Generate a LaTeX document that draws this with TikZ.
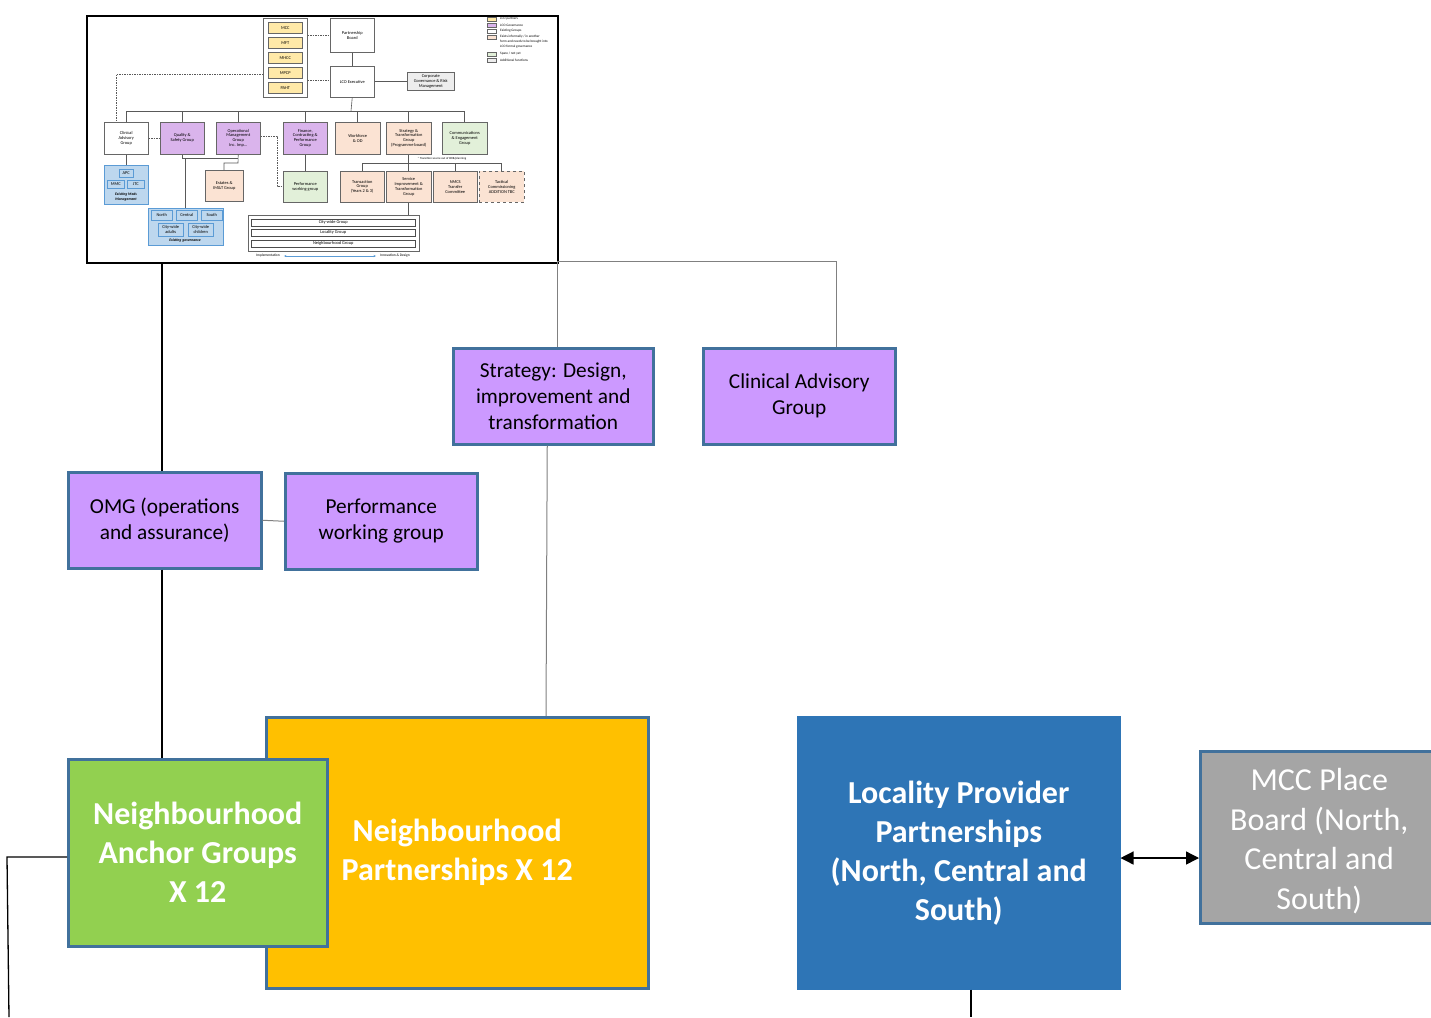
\documentclass[tikz,border=0pt]{standalone}
\usepackage{fontspec}
\setmainfont{Carlito}
\usetikzlibrary{arrows.meta}

\definecolor{lav}{HTML}{CC99FF}
\definecolor{rim}{HTML}{41719C}
\definecolor{amber}{HTML}{FFC000}
\definecolor{leaf}{HTML}{92D050}
\definecolor{ocean}{HTML}{2E75B6}
\definecolor{stone}{HTML}{A5A5A5}
\definecolor{wire}{HTML}{808080}
\definecolor{mpurple}{HTML}{DAB4EC}
\definecolor{mpeach}{HTML}{FBE3D3}
\definecolor{mgreen}{HTML}{E2F0D9}
\definecolor{mgrey}{HTML}{EDEDED}
\definecolor{myellow}{HTML}{FFE9A8}
\definecolor{mblue}{HTML}{BDD7EE}
\definecolor{mblueedge}{HTML}{5B9BD5}

% box placed by its top-left corner: style, name, corner, width, height, text
\newcommand\putbox[6]{\node[#1, anchor=north west, minimum width=#4pt, minimum height=#5pt] (#2) at (#3) {#6};}

\tikzset{
  unitbox/.style={draw=rim, line width=2.5pt, align=center, inner sep=0pt},
  purplebox/.style={unitbox, fill=lav, font=\fontsize{21.3}{26}\selectfont},
  boldwhite/.style={text=white, font=\fontsize{32}{39}\selectfont\bfseries},
  link/.style={wire, line width=1pt},
  blackline/.style={black, line width=1.3pt},
  mini/.style={draw=gray!80!black, line width=0.5pt, align=center, inner sep=0pt,
    font=\fontsize{4.4}{4.9}\selectfont},
  miniline/.style={gray!70!black, line width=0.6pt},
  minidash/.style={gray!70!black, line width=0.5pt, dash pattern=on 1.5pt off 1pt},
  legtext/.style={anchor=west, inner sep=0pt, font=\fontsize{3.4}{3.8}\selectfont},
}

\begin{document}
\begin{tikzpicture}[x=1pt, y=-1pt]
\useasboundingbox (0,0) rectangle (1431,1017);

% ---------- embedded governance overview ----------
\putbox{draw=black, line width=2pt, fill=white}{snap}{86,15}{471}{247}{}

% partners column
\putbox{mini}{partners}{263,18}{44}{79}{}
\putbox{mini, fill=myellow}{pa}{268,22}{34}{11}{MCC}
\putbox{mini, fill=myellow}{pb}{268,37}{34}{11}{MFT}
\putbox{mini, fill=myellow}{pc}{268,52}{34}{11}{MHCC}
\putbox{mini, fill=myellow}{pd}{268,67}{34}{11}{MPCP}
\putbox{mini, fill=myellow}{pe}{268,82}{34}{11}{PAHT}

\putbox{mini}{board}{330,18}{44}{34}{Partnership\\Board}
\putbox{mini}{exec}{330,66}{44}{31}{LCO Executive}
\putbox{mini, fill=mgrey}{corp}{407,72}{47}{18}{Corporate\\Governance \& Risk\\Management}

\draw[minidash] (partners.east |- board.west) -- (board.west);
\draw[minidash] (partners.east |- 0,80) -- (exec.west |- 0,80);
\draw[miniline] (board.south) -- (exec.north);
\draw[miniline] (exec.east |- corp.west) -- (corp.west);

% first tier
\putbox{mini}{mcag}{104,122}{44}{32}{Clinical\\Advisory\\Group}
\putbox{mini, fill=mpurple}{mqsg}{160,122}{44}{32}{Quality \&\\Safety Group}
\putbox{mini, fill=mpurple}{momg}{216,122}{44}{32}{Operational\\Management\\Group\\Inc. Imp...}
\putbox{mini, fill=mpurple}{mfin}{283,122}{44}{32}{Finance,\\Contracting \&\\Performance\\Group}
\putbox{mini, fill=mpeach}{mwod}{335,122}{45}{32}{Workforce\\\& OD}
\putbox{mini, fill=mpeach}{mstg}{386,122}{45}{32}{Strategy \&\\Transformation\\Group\\(Programme board)}
\putbox{mini, fill=mgreen}{mcom}{442,122}{45}{32}{Communications\\\& Engagement\\Group}

\draw[miniline] (exec.south) -- (351,111);
\draw[miniline] (mcag.north |- 0,111) -- (mcom.north |- 0,111);
\foreach \b in {mcag,mqsg,momg,mfin,mwod,mstg,mcom}
  \draw[miniline] (\b.north |- 0,111) -- (\b.north);

\draw[minidash] (partners.west |- 0,74) -- (116,74) -- (116,122);
\draw[minidash] (mcag.east |- 0,138) -- (mqsg.west |- 0,138);

% second tier under the first
\putbox{mini, fill=mpeach}{mest}{205,170}{38}{31}{Estates \&\\IM\&T Group}
\putbox{mini, fill=mgreen}{mpwg}{283,171}{44}{31}{Performance\\working group}
\draw[miniline] (momg.south) -- (238,163) -- (224,163) -- (mest.north -| 224,0);
\draw[miniline] (mfin.south) -- (mpwg.north);
\draw[minidash] (momg.east |- 0,136) -- (277,136) -- (277,186) -- (mpwg.west |- 0,186);

% existing medicines management
\putbox{mini, fill=mblue, draw=mblueedge}{meds}{104,165}{44}{39}{}
\putbox{mini, fill=mblue, draw=mblueedge}{mapc}{119,169}{14}{8}{APC}
\putbox{mini, fill=mblue, draw=mblueedge}{mmmc}{107,180}{17}{8}{MMC}
\putbox{mini, fill=mblue, draw=mblueedge}{mjtc}{127,180}{17}{8}{JTC}
\node[inner sep=0pt, align=center, font=\fontsize{3.8}{4.2}\selectfont\bfseries\itshape] (medscap) at (126,197) {Existing Meds\\Management};
\draw[miniline] (mcag.south) -- (meds.north -| mcag.south);

% existing governance
\putbox{mini, fill=mblue, draw=mblueedge}{egov}{148,208}{75}{37}{}
\putbox{mini, fill=mblue, draw=mblueedge}{enor}{151,210}{21}{10}{North}
\putbox{mini, fill=mblue, draw=mblueedge}{ecen}{176,210}{21}{10}{Central}
\putbox{mini, fill=mblue, draw=mblueedge}{esou}{201,210}{21}{10}{South}
\putbox{mini, fill=mblue, draw=mblueedge}{eadu}{158,223}{25}{13}{City-wide\\adults}
\putbox{mini, fill=mblue, draw=mblueedge}{echi}{188,223}{25}{13}{City-wide\\children}
\node[inner sep=0pt, font=\fontsize{3.8}{4.2}\selectfont\bfseries\itshape] (egovcap) at (185,240) {Existing governance};
\draw[miniline] (mqsg.south -| 182,0) -- (182,158) -- (238,158);
\draw[miniline] (185,158) -- (egov.north -| 185,0);

% strategy sub-groups
\node[inner sep=0pt, font=\fontsize{3}{3.2}\selectfont] (mnote) at (442,159) {* Transition source out of BOB/planning};
\putbox{mini, fill=mpeach}{mtra}{340,171}{44}{31}{Transaction\\Group\\(Years 2 \& 3)}
\putbox{mini, fill=mpeach}{msit}{386,171}{45}{31}{Service\\Improvement \&\\Transformation\\Group}
\putbox{mini, fill=mpeach}{mnmc}{433,171}{44}{31}{NMCS\\Transfer\\Committee}
\putbox{mini, fill=mpeach, dashed}{mtac}{479,171}{45}{31}{Tactical\\Commissioning\\ADDITION TBC}
\draw[miniline] (mstg.south) -- (mstg.south |- 0,163);
\draw[miniline] (mtra.north |- 0,163) -- (mtac.north |- 0,163);
\foreach \b in {mtra,msit,mnmc,mtac}
  \draw[miniline] (\b.north |- 0,163) -- (\b.north);

% tiers of groups
\putbox{mini}{tiers}{248,215}{171}{36}{}
\putbox{mini, draw=black!70}{tcity}{251,219}{164}{7}{City-wide Group}
\putbox{mini, draw=black!70}{tloc}{251,229}{164}{7}{Locality Group}
\putbox{mini, draw=black!70}{tnbh}{251,240}{164}{7}{Neighbourhood Group}
\draw[miniline] (msit.south) -- (tiers.north -| msit.south);
\node[inner sep=0pt, font=\fontsize{3.6}{4}\selectfont] (impl) at (268,256) {Implementation};
\node[inner sep=0pt, font=\fontsize{3.6}{4}\selectfont] (innov) at (395,256) {Innovation \& Design};
\draw[mblueedge, line width=0.6pt, {Stealth[length=2.5pt,width=2pt]}-{Stealth[length=2.5pt,width=2pt]}]
  ([xshift=4pt]impl.east) -- ([xshift=-4pt]innov.west);

% legend
\foreach \y/\c in {19/myellow, 25/mpurple, 31/white, 37/mpeach, 54/mgreen, 60/mgrey}
  \draw[gray!80!black, line width=0.4pt, fill=\c] (487,\y-2) rectangle (496,\y+2);
\node[legtext] (la) at (500,19) {LCO partners};
\node[legtext] (lb) at (500,25) {LCO Governance};
\node[legtext] (lc) at (500,31) {Existing Groups};
\node[legtext] (ld) at (500,37) {Exists informally / in another};
\node[legtext] (le) at (500,42) {form and needs to be brought into};
\node[legtext] (lf) at (500,47) {LCO formal governance};
\node[legtext] (lg) at (500,54) {Spare / not yet};
\node[legtext] (lh) at (500,60) {Additional functions};

% ---------- main structure ----------
\putbox{purplebox}{strat}{452,347}{200}{96}{Strategy: Design,\\improvement and\\transformation}
\putbox{purplebox}{cag}{702,347}{192}{96}{Clinical Advisory\\Group}
\putbox{purplebox}{omg}{67,471}{193}{96}{OMG (operations\\and assurance)}
\putbox{purplebox}{pwg}{284,472}{192}{96}{Performance\\working group}

\putbox{unitbox, fill=amber, boldwhite}{np}{265,716}{382}{271}{Neighbourhood\\Partnerships X 12}
\putbox{unitbox, fill=leaf, boldwhite}{nag}{67,758}{259}{187}{Neighbourhood\\Anchor Groups\\X 12}
\putbox{unitbox, draw=ocean, fill=ocean, boldwhite}{lpp}{797,716}{321}{271}{Locality Provider\\Partnerships\\(North, Central and\\South)}
\putbox{unitbox, fill=stone, text=white, font=\fontsize{32}{39.5}\selectfont}{mcc}{1199,750}{238}{172}{\raisebox{-5pt}[\height][\depth]{\begin{tabular}{@{}c@{}}MCC Place\\Board (North,\\Central and\\South)\end{tabular}}}

% connectors
\coordinate (leftdrop) at (9,1017);
\coordinate (lppdrop) at (971,1017);
\coordinate (tap) at (557,261);

\draw[blackline] (snap.south -| 162,0) -- (omg.north -| 162,0);
\draw[link] (tap) -- (strat.north -| tap);
\draw[link] (tap) -- (tap -| 836,0) -- (cag.north -| 836,0);
\draw[link] ([xshift=-6pt]strat.south) -- (np.north -| 546,0);
\draw[link] (omg.east) -- (pwg.west);
\draw[blackline] (omg.south -| 162,0) -- (nag.north -| 162,0);
\draw[blackline] (nag.west |- 0,857) -- (7,857) -- (leftdrop);
\draw[blackline] (lpp.south -| lppdrop) -- (lppdrop);
\draw[black, line width=1.3pt, {Triangle[length=13pt,width=13pt]}-{Triangle[length=13pt,width=13pt]}]
  (lpp.east |- 0,858) -- (mcc.west |- 0,858);
\end{tikzpicture}
\end{document}
